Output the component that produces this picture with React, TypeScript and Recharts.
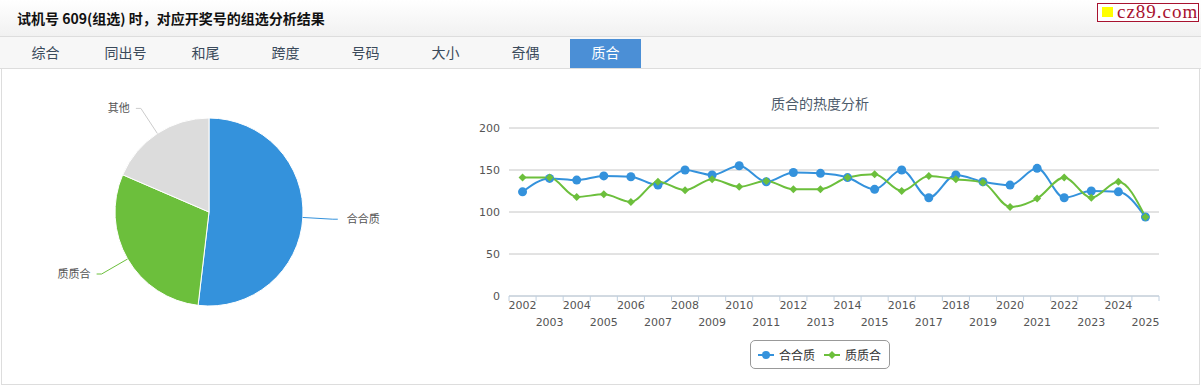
import React from 'react';
import { PieChart, Pie, Cell, LineChart, Line, XAxis, YAxis, CartesianGrid, Legend } from 'recharts';

// tabs of the analysis page
const tabs = ['综合', '同出号', '和尾', '跨度', '号码', '大小', '奇偶', '质合'];
const activeTab = 7;

// pie: counts per pattern
const pieNames = ['合合质', '质质合', '其他'];
const pieValues = [14, 8, 5];

// line chart: heat per year
const years = [
  '2002', '2003', '2004', '2005', '2006', '2007', '2008', '2009', '2010', '2011', '2012', '2013',
  '2014', '2015', '2016', '2017', '2018', '2019', '2020', '2021', '2022', '2023', '2024', '2025',
];
const heHeZhi = [124, 140, 138, 143, 142, 132, 150, 144, 155, 136, 147, 146, 141, 127, 150, 117, 144, 136, 132, 152, 117, 125, 124, 94];
const zhiZhiHe = [141, 141, 118, 121, 112, 136, 126, 139, 130, 137, 127, 127, 141, 145, 125, 143, 139, 135, 106, 116, 141, 117, 136, 94];
const yTicks = [0, 50, 100, 150, 200];

const BLUE = '#3492dc';
const GREEN = '#6cbf3c';
const GRAY = '#dcdcdc';
const AXIS = '#c0d0e0';
const pieColors = [BLUE, GREEN, GRAY];
const lineColors = [BLUE, GREEN, '#cccccc'];

const CHART_W = 760;
const CHART_H = 290;
const PLOT_LEFT = 69;
const PLOT_RIGHT = 41;
const BAND = (CHART_W - PLOT_LEFT - PLOT_RIGHT) / years.length;

const cjk = '"Noto Sans CJK SC", "Noto Sans", sans-serif';

const lineData = years.map((year, i) => ({ year, hhz: heHeZhi[i], zzh: zhiZhiHe[i] }));
const pieData = pieNames.map((name, i) => ({ name, value: pieValues[i] }));

const renderPieLabel = (props: any) => {
  const { cx, cy, midAngle, outerRadius, index, name } = props;
  const rad = (-midAngle * Math.PI) / 180;
  const dx = Math.cos(rad);
  const dy = Math.sin(rad);
  const ex = cx + outerRadius * dx;
  const ey = cy + outerRadius * dy;
  const R = outerRadius + 30;
  const ly = cy + R * dy;
  const side = dx >= 0 ? 1 : -1;
  const lx = cx + side * Math.sqrt(Math.max(R * R - (ly - cy) * (ly - cy), 0));
  return (
    <g>
      <path d={`M${ex},${ey} L${lx},${ly} L${lx + side * 5},${ly}`} stroke={lineColors[index]} fill="none" strokeWidth={1} />
      <text
        x={lx + (side > 0 ? 14 : -11)}
        y={ly}
        dy="0.35em"
        textAnchor={side > 0 ? 'start' : 'end'}
        fill="#555"
        fontSize={11}
        fontFamily={cjk}
      >
        {name}
      </text>
    </g>
  );
};

const YearTick = (props: any) => {
  const { x, y, payload } = props;
  const i = payload.index;
  const half = BAND / 2;
  return (
    <g>
      <line x1={x - half} x2={x - half} y1={y} y2={y + 5} stroke={AXIS} />
      {i === years.length - 1 && <line x1={x + half} x2={x + half} y1={y} y2={y + 5} stroke={AXIS} />}
      <text x={x} y={y + (i % 2 === 0 ? 13 : 30)} textAnchor="middle" fill="#555" fontSize={11} fontFamily="DejaVu Sans">
        {payload.value}
      </text>
    </g>
  );
};

const Diamond = (props: any) => {
  const { cx, cy } = props;
  if (cx == null || cy == null) return null;
  const s = 4;
  return <path d={`M${cx},${cy - s} L${cx + s},${cy} L${cx},${cy + s} L${cx - s},${cy} Z`} fill={GREEN} />;
};

const LegendBox = () => (
  <div style={{ width: '100%', display: 'flex', justifyContent: 'center' }}>
    <div
      style={{
        display: 'flex',
        alignItems: 'center',
        border: '1px solid #999',
        borderRadius: 5,
        height: 27,
        padding: '0 8px 0 7px',
        fontFamily: cjk,
        fontSize: 12,
        color: '#333',
        background: '#fff',
      }}
    >
      <svg width={16} height={10} style={{ marginRight: 5 }}>
        <line x1={0} x2={16} y1={5} y2={5} stroke={BLUE} strokeWidth={2} />
        <circle cx={8} cy={5} r={4} fill={BLUE} />
      </svg>
      <span>合合质</span>
      <svg width={16} height={10} style={{ marginLeft: 9, marginRight: 5 }}>
        <line x1={0} x2={16} y1={5} y2={5} stroke={GREEN} strokeWidth={2} />
        <path d="M8,1 L12,5 L8,9 L4,5 Z" fill={GREEN} />
      </svg>
      <span>质质合</span>
    </div>
  </div>
);

export default function App() {
  return (
    <div style={{ position: 'absolute', left: 0, top: 0, width: 1201, height: 385, background: '#fff', overflow: 'hidden' }}>
      {/* header */}
      <div
        style={{
          position: 'absolute',
          left: 0,
          top: 0,
          width: 1201,
          height: 36,
          background: 'linear-gradient(#ffffff, #f1f1f1)',
          borderBottom: '1px solid #dddddd',
        }}
      >
        <div
          style={{
            position: 'absolute',
            left: 17,
            top: 0,
            lineHeight: '36px',
            fontFamily: cjk,
            fontSize: 14,
            fontWeight: 'bold',
            color: '#111',
          }}
        >
          试机号 609(组选) 时，对应开奖号的组选分析结果
        </div>
        <div
          style={{
            position: 'absolute',
            left: 1097,
            top: 3,
            width: 100,
            height: 17,
            border: '1px solid #a8122f',
            background: '#fff',
          }}
        >
          <div style={{ position: 'absolute', left: 4, top: 3, width: 11, height: 10, background: '#ffff00' }} />
          <div
            style={{
              position: 'absolute',
              left: 19,
              top: -4,
              fontFamily: '"Liberation Serif", serif',
              fontSize: 19,
              letterSpacing: 1,
              color: '#a8122f',
              lineHeight: '24px',
            }}
          >
            cz89.com
          </div>
        </div>
      </div>

      {/* tab bar */}
      <div
        style={{
          position: 'absolute',
          left: 0,
          top: 37,
          width: 1201,
          height: 31,
          background: '#f7f7f7',
          borderBottom: '1px solid #dddddd',
        }}
      >
        {tabs.map((t, i) => (
          <div
            key={t}
            style={{
              position: 'absolute',
              left: 10 + i * 80,
              top: i === activeTab ? 2 : 0,
              width: 71,
              height: i === activeTab ? 29 : 31,
              lineHeight: i === activeTab ? '27px' : '31px',
              textAlign: 'center',
              fontFamily: cjk,
              fontSize: 14,
              color: i === activeTab ? '#fff' : '#3a4a5b',
              background: i === activeTab ? '#4b8fd6' : 'transparent',
            }}
          >
            {t}
          </div>
        ))}
      </div>

      {/* content panel */}
      <div
        style={{
          position: 'absolute',
          left: 1,
          top: 69,
          width: 1197,
          height: 315,
          borderLeft: '1px solid #dddddd',
          borderRight: '1px solid #dddddd',
          borderBottom: '1px solid #dddddd',
        }}
      />

      {/* pie */}
      <div style={{ position: 'absolute', left: 0, top: 69, width: 440, height: 315 }}>
        <PieChart width={440} height={315} margin={{ top: 0, right: 0, bottom: 0, left: 0 }}>
          <Pie
            data={pieData}
            dataKey="value"
            nameKey="name"
            cx={209}
            cy={143}
            outerRadius={94}
            startAngle={90}
            endAngle={-270}
            stroke="#fff"
            strokeWidth={1}
            label={renderPieLabel}
            labelLine={false}
            isAnimationActive={false}
          >
            {pieData.map((d, i) => (
              <Cell key={d.name} fill={pieColors[i]} />
            ))}
          </Pie>
        </PieChart>
      </div>

      {/* line chart title */}
      <div
        style={{
          position: 'absolute',
          left: 440,
          top: 93,
          width: CHART_W,
          textAlign: 'center',
          fontFamily: cjk,
          fontSize: 14,
          lineHeight: '20px',
          color: '#4d5b6b',
        }}
      >
        质合的热度分析
      </div>

      {/* line chart */}
      <div style={{ position: 'absolute', left: 440, top: 90, width: CHART_W, height: CHART_H }}>
        <LineChart
          width={CHART_W}
          height={CHART_H}
          data={lineData}
          margin={{ top: 38, right: PLOT_RIGHT, bottom: 44, left: 0 }}
        >
          <CartesianGrid vertical={false} stroke="#c6c6c6" />
          <XAxis
            dataKey="year"
            interval={0}
            height={40}
            padding={{ left: BAND / 2, right: BAND / 2 }}
            tickSize={0}
            tickMargin={0}
            tickLine={false}
            axisLine={{ stroke: AXIS }}
            tick={<YearTick />}
          />
          <YAxis
            width={PLOT_LEFT}
            domain={[0, 200]}
            ticks={yTicks}
            axisLine={false}
            tickLine={false}
            tickSize={0}
            tickMargin={9}
            tick={{ fill: '#555', fontSize: 11, fontFamily: 'DejaVu Sans' }}
          />
          <Legend
            verticalAlign="middle"
            align="center"
            layout="horizontal"
            content={() => <LegendBox />}
            wrapperStyle={{ top: 250, left: 0, width: CHART_W }}
          />
          <Line
            type="monotone"
            dataKey="hhz"
            name="合合质"
            stroke={BLUE}
            strokeWidth={2}
            dot={{ r: 4.5, fill: BLUE, stroke: 'none' }}
            activeDot={false}
            isAnimationActive={false}
          />
          <Line
            type="monotone"
            dataKey="zzh"
            name="质质合"
            stroke={GREEN}
            strokeWidth={2}
            dot={<Diamond />}
            activeDot={false}
            isAnimationActive={false}
          />
        </LineChart>
      </div>
    </div>
  );
}
